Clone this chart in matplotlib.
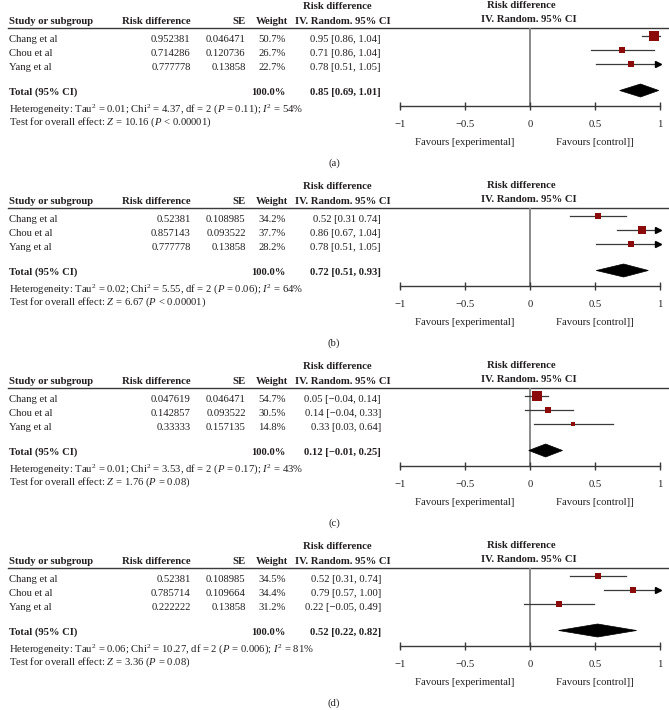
import matplotlib.pyplot as plt
from matplotlib.patches import Polygon

plt.rcParams['font.family'] = ['Liberation Serif', 'DejaVu Serif']
plt.rcParams['mathtext.fontset'] = 'custom'
plt.rcParams['mathtext.rm'] = 'Liberation Serif'
plt.rcParams['mathtext.it'] = 'Liberation Serif:italic'
plt.rcParams['mathtext.bf'] = 'Liberation Serif:bold'

# data, one entry per panel
studies = ["Chang et al", "Chou et al", "Yang et al"]
panel_labels = ["(a)", "(b)", "(c)", "(d)"]

rd_text = [["0.952381", "0.714286", "0.777778"],
           ["0.52381", "0.857143", "0.777778"],
           ["0.047619", "0.142857", "0.33333"],
           ["0.52381", "0.785714", "0.222222"]]
se_text = [["0.046471", "0.120736", "0.13858"],
           ["0.108985", "0.093522", "0.13858"],
           ["0.046471", "0.093522", "0.157135"],
           ["0.108985", "0.109664", "0.13858"]]
weights = [[50.7, 26.7, 22.7],
           [34.2, 37.7, 28.2],
           [54.7, 30.5, 14.8],
           [34.5, 34.4, 31.2]]
ci_text = [["0.95 [0.86, 1.04]", "0.71 [0.86, 1.04]", "0.78 [0.51, 1.05]"],
           ["0.52 [0.31 0.74]", "0.86 [0.67, 1.04]", "0.78 [0.51, 1.05]"],
           ["0.05 [\u22120.04, 0.14]", "0.14 [\u22120.04, 0.33]", "0.33 [0.03, 0.64]"],
           ["0.52 [0.31, 0.74]", "0.79 [0.57, 1.00]", "0.22 [\u22120.05, 0.49]"]]
total_text = ["0.85 [0.69, 1.01]", "0.72 [0.51, 0.93]",
              "0.12 [\u22120.01, 0.25]", "0.52 [0.22, 0.82]"]

# plotted estimates (as drawn)
est = [[0.95, 0.71, 0.78],
       [0.52, 0.86, 0.78],
       [0.05, 0.14, 0.33],
       [0.52, 0.79, 0.22]]
lo = [[0.86, 0.47, 0.51],
      [0.31, 0.67, 0.51],
      [-0.04, -0.04, 0.03],
      [0.31, 0.57, -0.05]]
hi = [[1.00, 0.95, 1.00],
      [0.74, 1.00, 1.00],
      [0.14, 0.33, 0.64],
      [0.74, 1.00, 0.49]]
arrow = [[False, False, True],
         [False, True, True],
         [False, False, False],
         [False, True, False]]
tot_est = [0.85, 0.72, 0.12, 0.52]
tot_lo = [0.69, 0.51, -0.01, 0.22]
tot_hi = [0.99, 0.91, 0.25, 0.82]

heterogeneity = [
    r"Heterogeneity: Tau$^2$ = 0.01; Chi$^2$ = 4.37, df = 2 ($P$ = 0.11); $I^2$ = 54%",
    r"Heterogeneity: Tau$^2$ = 0.02; Chi$^2$ = 5.55, df = 2 ($P$ = 0.06); $I^2$ = 64%",
    r"Heterogeneity: Tau$^2$ = 0.01; Chi$^2$ = 3.53, df = 2 ($P$ = 0.17); $I^2$ = 43%",
    r"Heterogeneity: Tau$^2$ = 0.06; Chi$^2$ = 10.27, df = 2 ($P$ = 0.006); $I^2$ = 81%",
]
overall = [
    r"Test for overall effect: $Z$ = 10.16 ($P$ < 0.00001)",
    r"Test for overall effect: $Z$ = 6.67 ($P$ < 0.00001)",
    r"Test for overall effect: $Z$ = 1.76 ($P$ = 0.08)",
    r"Test for overall effect: $Z$ = 3.36 ($P$ = 0.08)",
]

W, H = 669, 710
FS = 7.7
TXT = '#231f20'
SQ = '#8b0a0a'
LINE = '#3a3a3a'

fig = plt.figure(figsize=(W / 100, H / 100), dpi=100)
ax = fig.add_axes([0, 0, 1, 1])
ax.set_xlim(0, W)
ax.set_ylim(H, 0)
ax.axis('off')

# forest column: -1 at x=400 px, 1 at x=660 px
X0, X1 = 400, 660


def t(x, y, s, ha='left', bold=False):
    ax.text(x, y, s, ha=ha, va='baseline', fontsize=FS, color=TXT,
            fontweight='bold' if bold else 'normal')


for p in range(4):
    off = p * 180

    # table header
    t(337, off + 9, "Risk difference", ha='center', bold=True)
    t(9, off + 23.5, "Study or subgroup", bold=True)
    t(190.7, off + 23.5, "Risk difference", ha='right', bold=True)
    t(245.7, off + 23.5, "SE", ha='right', bold=True)
    t(288.3, off + 23.5, "Weight", ha='right', bold=True)
    t(390.7, off + 23.5, "IV. Random. 95% CI", ha='right', bold=True)
    t(521.7, off + 8, "Risk difference", ha='center', bold=True)
    t(529, off + 22, "IV. Random. 95% CI", ha='center', bold=True)
    ax.plot([8, W], [off + 27.5, off + 27.5], color=LINE, lw=1)

    # rows
    for i, name in enumerate(studies):
        yb = off + 42 + 14 * i
        t(9, yb, name)
        t(190.7, yb, rd_text[p][i], ha='right')
        t(245.7, yb, se_text[p][i], ha='right')
        t(286, yb, f"{weights[p][i]:.1f}%", ha='right')
        t(381, yb, ci_text[p][i], ha='right')

    t(9, off + 95, "Total (95% CI)", bold=True)
    t(286, off + 95, "100.0%", ha='right', bold=True)
    t(381, off + 95, total_text[p], ha='right', bold=True)
    t(9, off + 112, heterogeneity[p])
    t(9, off + 125, overall[p])

    t(465, off + 145, "Favours [experimental]", ha='center')
    t(595, off + 145, "Favours [control]]", ha='center')
    t(334, off + 166, panel_labels[p], ha='center')

    # forest axes: top at header line, bottom at scale line
    top, bot = off + 27.5, off + 106
    fa = fig.add_axes([X0 / W, 1 - bot / H, (X1 - X0) / W, (bot - top) / H])
    fa.set_xlim(-1, 1)
    fa.set_ylim(bot - off, top - off)
    fa.patch.set_visible(False)
    for s in ['top', 'right', 'left']:
        fa.spines[s].set_visible(False)
    fa.spines['bottom'].set_color(LINE)
    fa.spines['bottom'].set_linewidth(1)
    fa.set_yticks([])
    fa.set_xticks([-1, -0.5, 0, 0.5, 1])
    fa.set_xticklabels(["\u22121", "\u22120.5", "0", "0.5", "1"])
    fa.tick_params(axis='x', direction='inout', length=6, width=1,
                   color=LINE, labelsize=FS, labelcolor=TXT, pad=7)
    fa.axvline(0, color='#8a8a8a', lw=1.4, zorder=1)

    for i in range(3):
        yr = 36.3 + 14 * i
        fa.plot([lo[p][i], hi[p][i]], [yr, yr], color=LINE, lw=0.9, zorder=2,
                clip_on=False)
        if arrow[p][i]:
            fa.plot(hi[p][i] - 0.015, yr, marker='>', color='black',
                    markersize=4.2, zorder=3, clip_on=False)
        side = (1.6 + 0.15 * weights[p][i]) / 1.389
        fa.plot(est[p][i], yr, marker='s', markersize=side, color=SQ,
                markeredgewidth=0, zorder=4, clip_on=False)

    yt = 90.5
    fa.add_patch(Polygon([[tot_lo[p], yt], [tot_est[p], yt - 6.5],
                          [tot_hi[p], yt], [tot_est[p], yt + 6.5]],
                         closed=True, facecolor='black', edgecolor='black',
                         lw=0.5, zorder=4, clip_on=False))

fig.savefig("out.png", dpi=100)
